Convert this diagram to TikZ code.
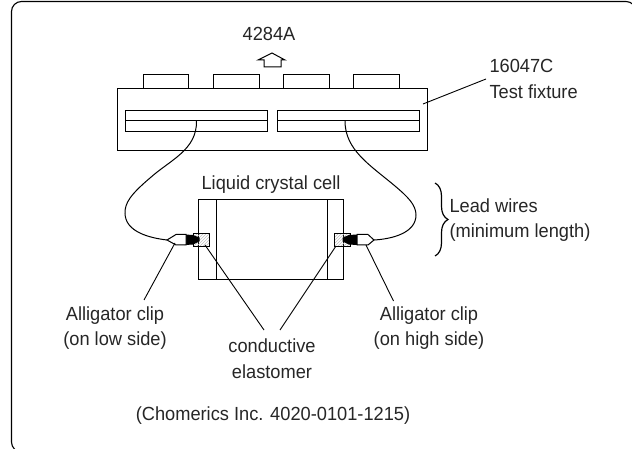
\documentclass[tikz,border=0pt]{standalone}
\usepackage{fontspec}
\setmainfont[FakeStretch=0.96]{Liberation Sans}
\usetikzlibrary{patterns,decorations.pathreplacing}

\begin{document}
\begin{tikzpicture}[x=1pt, y=-1pt, line width=1pt,
      tab/.style={rectangle, draw, inner sep=0, minimum width=45.5, minimum height=14},
      slot/.style={rectangle, draw, inner sep=0, minimum width=142, minimum height=10.3},
      pad/.style={rectangle, draw, pattern=north east lines, pattern color=lightgray, inner sep=0, minimum width=16, minimum height=13},
      jaw/.style={fill=black, draw=black},
      clip/.style={fill=white, draw=black},
      label/.style={inner sep=0, font=\fontsize{19}{25.5}\selectfont, text=black!85, align=center},
      leader/.style={line width=0.9pt}]
      \useasboundingbox (0, 0) rectangle (632, 449);
      \draw[rounded corners=10, line width=1.1pt] (11.5, 1.5) rectangle (636, 452);
      \node[rectangle, draw, inner sep=0, minimum width=310, minimum height=62](fixture) at (272, 120){};
      \node[tab](tab1) at (166, 82){};
      \node[tab](tab2) at (236.5, 82){};
      \node[tab](tab3) at (306.5, 82){};
      \node[tab](tab4) at (376.5, 82){};
      \node[slot](slotA) at (196, 115.7){};
      \node[slot](slotB) at (196, 126){};
      \node[slot](slotC) at (348, 115.7){};
      \node[slot](slotD) at (348, 126){};
      \node[rectangle, draw, inner sep=0, minimum width=145, minimum height=79](cell) at (270.5, 239.5){};
      \draw (216, 200) -- (216, 279);
      \draw (327, 200) -- (327, 279);
      \node[pad](padL) at (201, 240.5){};
      \node[pad](padR) at (342, 240.5){};
      \coordinate(tipL) at (167, 240);
      \coordinate(tipR) at (374, 240);
      \coordinate(wireL) at (196.5, 121);
      \coordinate(wireR) at (345, 121);
      \draw[jaw] (185, 235) -- (193, 235.5) -- (199, 238) -- (199, 241) -- (193, 244) -- (185, 244.5) -- cycle;
      \draw[jaw] (357, 235) -- (349, 235.5) -- (343, 238) -- (343, 241) -- (349, 244) -- (357, 244.5) -- cycle;
      \draw[clip] (tipL) -- (176, 234.5) -- (186, 234.5) -- (186, 245) -- (176, 245) -- cycle;
      \draw[clip] (tipR) -- (368, 234.5) -- (357, 234.5) -- (357, 245) -- (368, 245) -- cycle;
      \draw (wireL) .. controls (197, 150) and (170, 160) .. (150, 178) .. controls (130, 195) and (125, 203) .. (125, 213) .. controls (125, 232) and (150, 238) .. (tipL);
      \draw (wireR) .. controls (345, 150) and (370, 165) .. (395, 186) .. controls (408, 197) and (416, 205) .. (416, 215) .. controls (416, 233) and (392, 239) .. (tipR);
      \draw[line join=miter] (272, 53) -- (285, 60) -- (281, 60) -- (281, 67) -- (264, 67) -- (264, 60) -- (258, 60) -- cycle;
      \node[label](target) at (269, 34){4284A};
      \node[label, align=left, anchor=west](fixturetext) at (489, 79){16047C\\Test fixture};
      \node[label](celltext) at (271, 185){Liquid crystal cell};
      \node[label, align=left, anchor=west](leadtext) at (449, 220){Lead wires\\(minimum length)};
      \node[label](clipL) at (115, 328){Alligator clip\\(on low side)};
      \node[label](clipR) at (429, 328){Alligator clip\\(on high side)};
      \node[label](padtext) at (272, 358.5){conductive\\elastomer};
      \node[label](maker) at (273, 416){(Chomerics Inc. 4020-0101-1215)};
      \coordinate(leadT) at (435, 183);
      \coordinate(leadB) at (435, 256);
      \coordinate(fixtureL) at (423, 104);
      \coordinate(fixtureE) at (486, 79);
      \coordinate(clipLtop) at (175, 243);
      \coordinate(clipLend) at (144, 300);
      \coordinate(padLtop) at (205, 245);
      \coordinate(padLend) at (264, 330);
      \coordinate(padRtop) at (336, 246);
      \coordinate(padRend) at (280, 330);
      \coordinate(clipRtop) at (366, 245);
      \coordinate(clipRend) at (393.5, 301);
      \draw[decorate, decoration={brace, amplitude=13}, line width=1.2pt] (leadT) -- (leadB);
      \draw[leader] (fixtureL) -- (fixtureE);
      \draw[leader] (clipLtop) -- (clipLend);
      \draw[leader] (padLtop) -- (padLend);
      \draw[leader] (padRtop) -- (padRend);
      \draw[leader] (clipRtop) -- (clipRend);
    \end{tikzpicture}
\end{document}
